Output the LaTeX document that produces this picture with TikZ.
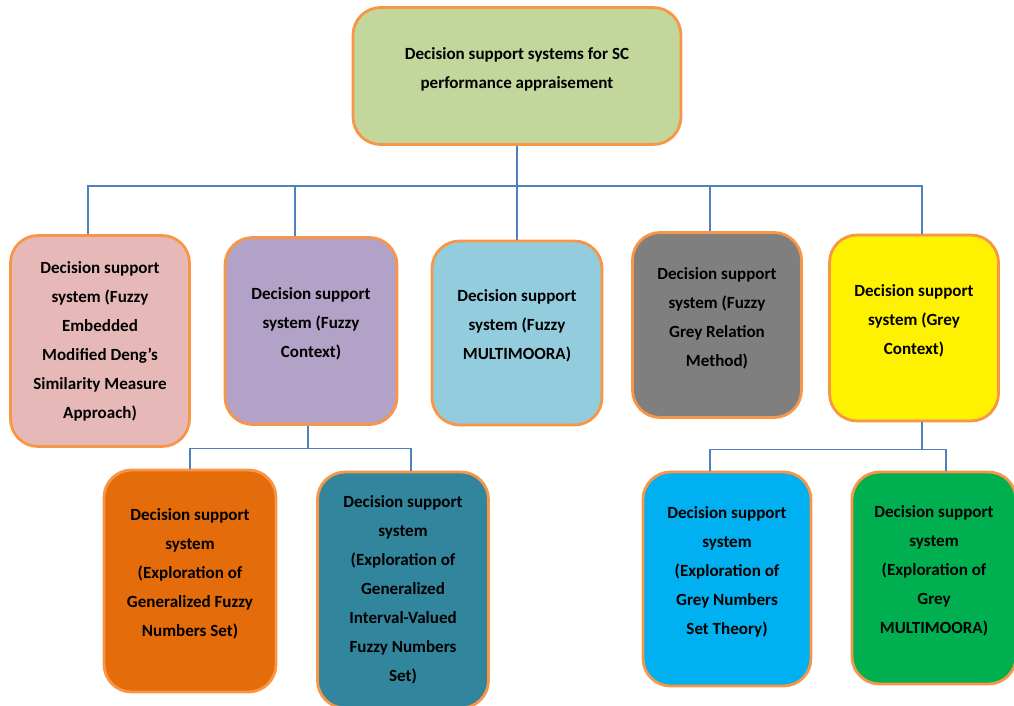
\documentclass[tikz,border=0pt]{standalone}
\usepackage{fontspec}
\setmainfont{Carlito}
\usetikzlibrary{positioning,calc}
\definecolor{rim}{HTML}{F79646}
\definecolor{linkblue}{HTML}{4F81BD}
\definecolor{topgreen}{HTML}{C3D69B}
\definecolor{pinkfill}{HTML}{E6B9B8}
\definecolor{lilac}{HTML}{B3A2C7}
\definecolor{aqua}{HTML}{93CDDD}
\definecolor{greyfill}{HTML}{7F7F7F}
\definecolor{orangefill}{HTML}{E46C0A}
\definecolor{tealfill}{HTML}{31859C}
\definecolor{skyfill}{HTML}{00B0F0}
\definecolor{greenfill}{HTML}{00B050}
% empty last line, lifts the text a little inside its box
\newcommand\tailpad{\\[-7pt]\mbox{}}

\begin{document}
\begin{tikzpicture}[x=0.02cm,y=-0.02cm,
  box/.style={draw=rim,line width=1.6pt,rounded corners=0.55cm,align=center,
    inner sep=0pt,font=\bfseries\fontsize{9.7}{16.5}\selectfont},
  link/.style={draw=linkblue,line width=0.6pt}]
  \useasboundingbox (0,0) rectangle (1014,706);
  % root
  \node[box,fill=topgreen,minimum width=6.56cm,minimum height=2.74cm] (dss) at (517,76)
    {Decision support systems for SC\\performance appraisement\tailpad};
  % first level
  \node[box,fill=pinkfill,minimum width=3.58cm,minimum height=4.22cm] (fuzzyemb) at (100,341)
    {Decision support\\system (Fuzzy\\Embedded\\Modified Deng’s\\Similarity Measure\\Approach)};
  \node[box,fill=lilac,minimum width=3.44cm,minimum height=3.74cm] (fuzzyctx) at (311,331)
    {Decision support\\system (Fuzzy\\Context)\tailpad};
  \node[box,fill=aqua,minimum width=3.4cm,minimum height=3.68cm] (fuzzymm) at (517,333)
    {Decision support\\system (Fuzzy\\MULTIMOORA)\tailpad};
  \node[box,fill=greyfill,minimum width=3.38cm,minimum height=3.7cm] (fuzzygrey) at (717,325)
    {Decision support\\system (Fuzzy\\Grey Relation\\Method)\tailpad};
  \node[box,fill=yellow,minimum width=3.38cm,minimum height=3.72cm] (greyctx) at (914,328)
    {Decision support\\system (Grey\\Context)\tailpad};
  % second level
  \node[box,fill=orangefill,minimum width=3.44cm,minimum height=4.44cm] (genfuzzy) at (190,581)
    {Decision support\\system\\(Exploration of\\Generalized Fuzzy\\Numbers Set)\tailpad};
  \node[box,fill=tealfill,minimum width=3.42cm,minimum height=4.72cm] (intfuzzy) at (403,590)
    {Decision support\\system\\(Exploration of\\Generalized\\Interval-Valued\\Fuzzy Numbers\\Set)};
  \node[box,fill=skyfill,minimum width=3.36cm,minimum height=4.28cm] (greyset) at (727,579)
    {Decision support\\system\\(Exploration of\\Grey Numbers\\Set Theory)\tailpad};
  \node[box,fill=greenfill,minimum width=3.28cm,minimum height=4.24cm] (greymm) at (934,578)
    {Decision support\\system\\(Exploration of\\Grey\\MULTIMOORA)\tailpad};
  % connectors
  \coordinate (bus) at (517,186);
  \draw[link] (dss.south) -- (fuzzymm.north);
  \draw[link] ([xshift=-0.24cm]fuzzyemb.north) |- (bus);
  \draw[link] ([xshift=-0.32cm]fuzzyctx.north) |- (bus);
  \draw[link] ([xshift=-0.14cm]fuzzygrey.north) |- (bus);
  \draw[link] ([xshift=0.16cm]greyctx.north) |- (bus);
  \draw[link] ([xshift=-0.06cm]fuzzyctx.south) -- ++(0,23) coordinate (lbus);
  \draw[link] (genfuzzy.north) |- (lbus);
  \draw[link] ([xshift=0.16cm]intfuzzy.north) |- (lbus);
  \draw[link] ([xshift=0.16cm]greyctx.south) -- ++(0,27) coordinate (rbus);
  \draw[link] ([xshift=-0.34cm]greyset.north) |- (rbus);
  \draw[link] ([xshift=0.24cm]greymm.north) |- (rbus);
\end{tikzpicture}
\end{document}
